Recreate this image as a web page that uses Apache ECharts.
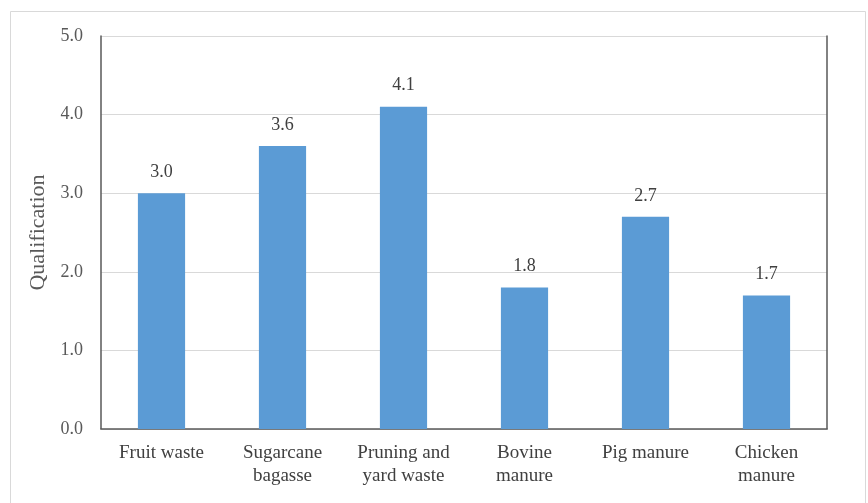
<!DOCTYPE html>
<html>
<head>
<meta charset="utf-8">
<style>
	html, body { margin: 0; padding: 0; background: #fff; }
	#chart { width: 868px; height: 503px; }
</style>
<script src="https://cdn.jsdelivr.net/npm/echarts@6/dist/echarts.min.js"></script>
</head>
<body>
<div id="chart"></div>
<script>
var categories = ['Fruit waste', 'Sugarcane\nbagasse', 'Pruning and\nyard waste', 'Bovine\nmanure', 'Pig manure', 'Chicken\nmanure'],
	values = [3.0, 3.6, 4.1, 1.8, 2.7, 1.7],
	yTicks = [0, 1, 2, 3, 4, 5];

var chart = echarts.init(document.querySelector('#chart')),
	font = '"Liberation Serif", "Times New Roman", serif',
	darkLine = { lineStyle: { color: '#595959', width: 1.5 } };

var option = {
	backgroundColor: '#fff',
	textStyle: { fontFamily: font },
	animation: false,
	// 外框
	graphic: [{
		type: 'rect',
		shape: { x: 10.5, y: 11.5, width: 855, height: 500 },
		style: { fill: 'none', stroke: '#d9d9d9', lineWidth: 1 },
		silent: true
	}],
	grid: {
		left: 101,
		right: 41,
		top: 36,
		bottom: 74
	},
	xAxis: [{
		type: 'category',
		data: categories,
		axisTick: { show: false },
		axisLine: { lineStyle: { color: '#d9d9d9', width: 1 } },
		axisLabel: {
			color: '#404040',
			fontSize: 19,
			fontFamily: font,
			lineHeight: 23,
			margin: 13,
			interval: 0
		}
	}, {
		type: 'category',
		position: 'top',
		data: categories,
		axisTick: { show: false },
		axisLabel: { show: false },
		axisLine: darkLine
	}],
	yAxis: [{
		type: 'value',
		min: 0,
		max: 5,
		interval: 1,
		name: 'Qualification',
		nameLocation: 'middle',
		nameGap: 50,
		nameTextStyle: { color: '#595959', fontSize: 22, fontFamily: font },
		axisLine: Object.assign({ show: true }, darkLine),
		axisTick: { show: false },
		splitLine: { lineStyle: { color: '#d9d9d9', width: 1 } },
		axisLabel: {
			color: '#595959',
			fontSize: 18,
			fontFamily: font,
			margin: 18,
			formatter: function(v){ return yTicks.indexOf(v) > -1 ? v.toFixed(1) : ''; }
		}
	}, {
		type: 'value',
		position: 'right',
		min: 0,
		max: 5,
		interval: 1,
		axisLine: Object.assign({ show: true }, darkLine),
		axisTick: { show: false },
		axisLabel: { show: false },
		splitLine: { show: false }
	}],
	series: [{
		type: 'bar',
		data: values,
		barWidth: '39%',
		itemStyle: { color: '#5b9bd5' },
		label: {
			show: true,
			position: 'top',
			distance: 12,
			color: '#404040',
			fontSize: 18,
			fontFamily: font,
			formatter: function(p){ return p.value.toFixed(1); }
		}
	}]
};

chart.setOption(option);
</script>
</body>
</html>
